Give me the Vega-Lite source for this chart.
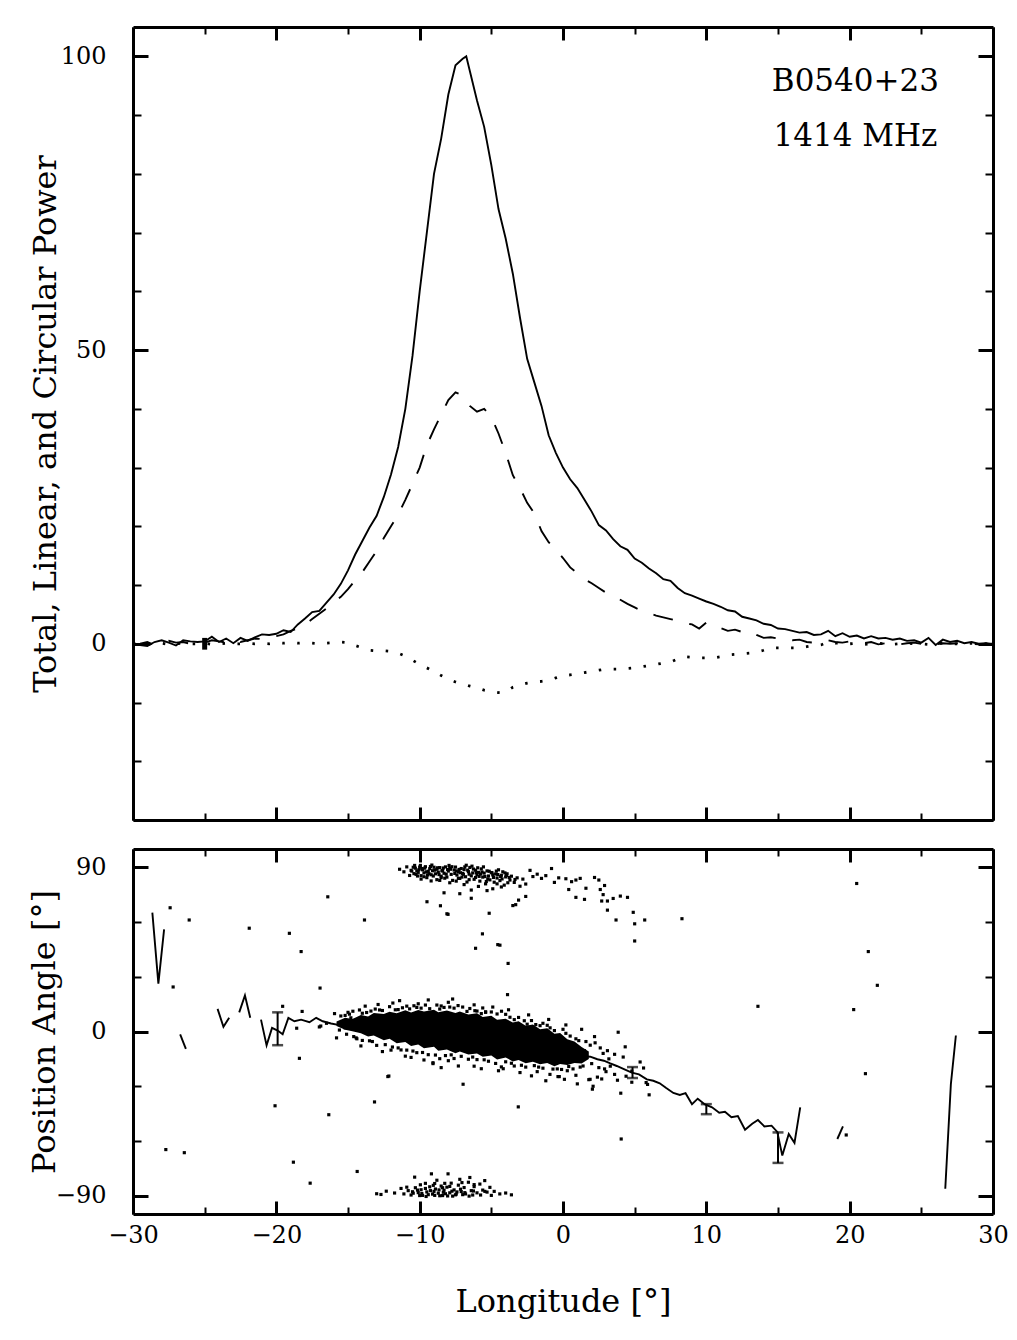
{
  "$schema": "https://vega.github.io/schema/vega-lite/v6.json",
  "background": "white",
  "padding": {"left": 28, "top": 25, "right": 20, "bottom": 5},
  "spacing": 15,
  "config": {
    "font": "DejaVu Serif",
    "view": {"stroke": null},
    "axis": {"grid": false, "domainColor": "black", "tickColor": "black", "labelColor": "black", "titleColor": "black", "labelFont": "DejaVu Serif", "titleFont": "DejaVu Serif", "titleFontWeight": "normal", "labelFlush": false, "labelOverlap": false, "labelBound": false, "domainWidth": 3}
  },
  "datasets": {
    "prof": [
      {"lon":-30,"I":0.0,"L":-0.2,"V":0.0},{"lon":-29.5,"I":-0.2,"L":0.0,"V":0.1},{"lon":-29,"I":-0.4,"L":0.3,"V":-0.1},{"lon":-28.5,"I":0.3,"L":-0.2,"V":0.0},{"lon":-28,"I":0.6,"L":0.2,"V":0.1},{"lon":-27.5,"I":0.2,"L":0.5,"V":-0.1},{"lon":-27,"I":-0.3,"L":0.2,"V":0.0},{"lon":-26.5,"I":0.6,"L":0.3,"V":0.1},{"lon":-26,"I":0.4,"L":0.0,"V":0.0},{"lon":-25.5,"I":0.3,"L":0.4,"V":0.0},{"lon":-25,"I":0.4,"L":0.2,"V":0.1},{"lon":-24.5,"I":1.2,"L":0.6,"V":-0.1},{"lon":-24,"I":0.3,"L":0.4,"V":0.0},{"lon":-23.5,"I":0.9,"L":0.2,"V":0.1},{"lon":-23,"I":0.1,"L":0.7,"V":0.0},{"lon":-22.5,"I":1.0,"L":0.3,"V":0.0},{"lon":-22,"I":0.5,"L":0.6,"V":0.1},{"lon":-21.5,"I":1.1,"L":0.9,"V":0.0},{"lon":-21,"I":1.6,"L":0.8,"V":0.1},{"lon":-20.5,"I":1.5,"L":1.1,"V":0.0},{"lon":-20,"I":1.7,"L":1.3,"V":0.2},{"lon":-19.5,"I":2.3,"L":1.6,"V":0.1},{"lon":-19,"I":2.0,"L":2.2,"V":0.2},{"lon":-18.5,"I":3.3,"L":2.6,"V":0.1},{"lon":-18,"I":4.3,"L":3.3,"V":0.2},{"lon":-17.5,"I":5.4,"L":4.2,"V":0.1},{"lon":-17,"I":5.6,"L":5.1,"V":0.0},{"lon":-16.5,"I":7.0,"L":6.0,"V":0.1},{"lon":-16,"I":8.4,"L":7.0,"V":0.2},{"lon":-15.5,"I":10.2,"L":8.0,"V":0.3},{"lon":-15,"I":12.5,"L":9.3,"V":0.2},{"lon":-14.5,"I":15.2,"L":10.8,"V":-0.3},{"lon":-14,"I":17.5,"L":12.2,"V":-0.7},{"lon":-13.5,"I":19.8,"L":14.0,"V":-1.1},{"lon":-13,"I":21.8,"L":15.8,"V":-1.2},{"lon":-12.5,"I":25.0,"L":18.0,"V":-1.2},{"lon":-12,"I":28.8,"L":20.0,"V":-1.3},{"lon":-11.5,"I":33.5,"L":22.0,"V":-1.6},{"lon":-11,"I":40.0,"L":24.5,"V":-2.1},{"lon":-10.5,"I":49.0,"L":27.2,"V":-2.8},{"lon":-10,"I":60.0,"L":30.0,"V":-3.5},{"lon":-9.5,"I":70.0,"L":33.8,"V":-4.1},{"lon":-9,"I":80.0,"L":36.5,"V":-4.7},{"lon":-8.5,"I":86.0,"L":39.0,"V":-5.4},{"lon":-8,"I":93.5,"L":41.5,"V":-6.0},{"lon":-7.5,"I":98.5,"L":42.8,"V":-6.5},{"lon":-7,"I":99.6,"L":42.3,"V":-6.9},{"lon":-6.75,"I":100.0,"L":41.5,"V":-7.0},{"lon":-6.5,"I":97.5,"L":40.5,"V":-7.2},{"lon":-6,"I":92.5,"L":39.5,"V":-7.5},{"lon":-5.5,"I":88.0,"L":40.0,"V":-7.9},{"lon":-5,"I":81.5,"L":38.6,"V":-8.1},{"lon":-4.5,"I":74.0,"L":35.8,"V":-8.3},{"lon":-4,"I":69.0,"L":32.5,"V":-8.2},{"lon":-3.5,"I":63.0,"L":28.7,"V":-7.4},{"lon":-3,"I":55.5,"L":26.5,"V":-7.0},{"lon":-2.5,"I":48.5,"L":24.0,"V":-6.7},{"lon":-2,"I":44.5,"L":22.2,"V":-6.5},{"lon":-1.5,"I":40.5,"L":19.2,"V":-6.4},{"lon":-1,"I":35.5,"L":17.3,"V":-6.2},{"lon":-0.5,"I":32.5,"L":16.0,"V":-5.8},{"lon":0,"I":30.0,"L":14.6,"V":-5.4},{"lon":0.5,"I":28.0,"L":13.0,"V":-5.3},{"lon":1,"I":26.5,"L":12.0,"V":-5.1},{"lon":1.5,"I":24.5,"L":11.0,"V":-4.9},{"lon":2,"I":22.5,"L":10.3,"V":-4.7},{"lon":2.5,"I":20.2,"L":9.5,"V":-4.5},{"lon":3,"I":19.3,"L":8.7,"V":-4.3},{"lon":3.5,"I":17.8,"L":8.2,"V":-4.3},{"lon":4,"I":16.6,"L":7.5,"V":-4.3},{"lon":4.5,"I":16.0,"L":6.8,"V":-4.2},{"lon":5,"I":14.5,"L":6.2,"V":-4.1},{"lon":5.5,"I":13.8,"L":5.6,"V":-3.9},{"lon":6,"I":12.8,"L":5.2,"V":-3.7},{"lon":6.5,"I":12.0,"L":4.8,"V":-3.5},{"lon":7,"I":11.0,"L":4.5,"V":-3.3},{"lon":7.5,"I":10.7,"L":4.2,"V":-3.1},{"lon":8,"I":9.5,"L":3.9,"V":-2.6},{"lon":8.5,"I":8.6,"L":3.5,"V":-2.2},{"lon":9,"I":8.2,"L":3.3,"V":-2.3},{"lon":9.5,"I":7.7,"L":2.6,"V":-2.4},{"lon":10,"I":7.2,"L":3.6,"V":-2.4},{"lon":10.5,"I":6.8,"L":2.8,"V":-2.4},{"lon":11,"I":6.3,"L":2.7,"V":-2.2},{"lon":11.5,"I":5.7,"L":2.2,"V":-1.9},{"lon":12,"I":5.5,"L":2.4,"V":-1.8},{"lon":12.5,"I":4.6,"L":2.0,"V":-1.7},{"lon":13,"I":4.3,"L":2.2,"V":-1.6},{"lon":13.5,"I":4.0,"L":1.5,"V":-1.4},{"lon":14,"I":3.4,"L":1.0,"V":-1.1},{"lon":14.5,"I":3.2,"L":1.1,"V":-0.7},{"lon":15,"I":2.6,"L":0.9,"V":-0.7},{"lon":15.5,"I":2.5,"L":1.0,"V":-0.7},{"lon":16,"I":2.2,"L":0.6,"V":-0.7},{"lon":16.5,"I":1.9,"L":0.7,"V":-0.7},{"lon":17,"I":2.0,"L":0.3,"V":-0.5},{"lon":17.5,"I":1.5,"L":0.2,"V":-0.3},{"lon":18,"I":1.6,"L":0.5,"V":-0.2},{"lon":18.5,"I":2.2,"L":0.6,"V":0.3},{"lon":19,"I":1.3,"L":0.3,"V":0.1},{"lon":19.5,"I":1.8,"L":0.2,"V":0.1},{"lon":20,"I":1.2,"L":0.4,"V":0.0},{"lon":20.5,"I":1.4,"L":0.2,"V":0.1},{"lon":21,"I":0.9,"L":0.1,"V":-0.1},{"lon":21.5,"I":1.3,"L":0.3,"V":0.0},{"lon":22,"I":0.9,"L":-0.1,"V":0.1},{"lon":22.5,"I":1.0,"L":0.1,"V":0.0},{"lon":23,"I":0.7,"L":0.2,"V":-0.1},{"lon":23.5,"I":0.9,"L":-0.1,"V":0.0},{"lon":24,"I":0.5,"L":0.1,"V":0.1},{"lon":24.5,"I":0.6,"L":0.2,"V":0.0},{"lon":25,"I":0.2,"L":0.0,"V":0.0},{"lon":25.5,"I":1.0,"L":0.1,"V":-0.1},{"lon":26,"I":-0.2,"L":-0.1,"V":0.0},{"lon":26.5,"I":0.7,"L":0.1,"V":0.1},{"lon":27,"I":0.3,"L":0.0,"V":0.0},{"lon":27.5,"I":0.5,"L":0.1,"V":0.0},{"lon":28,"I":0.1,"L":0.0,"V":0.0},{"lon":28.5,"I":0.3,"L":0.0,"V":0.1},{"lon":29,"I":0.0,"L":-0.1,"V":0.0},{"lon":29.5,"I":0.1,"L":0.0,"V":0.0},{"lon":30,"I":-0.1,"L":0.0,"V":0.0}
    ],
    "paline": [
      {"seg":1,"lon":-28.65,"pa":65.1},{"seg":1,"lon":-28.23,"pa":26.2},{"seg":1,"lon":-27.83,"pa":56.0},
      {"seg":2,"lon":-26.71,"pa":-1.6},{"seg":2,"lon":-26.31,"pa":-9.5},
      {"seg":3,"lon":-24.1,"pa":12.4},{"seg":3,"lon":-23.69,"pa":2.6},{"seg":3,"lon":-23.29,"pa":7.5},
      {"seg":4,"lon":-22.59,"pa":10.5},{"seg":4,"lon":-22.19,"pa":19.8},{"seg":4,"lon":-21.82,"pa":7.5},
      {"seg":5,"lon":-21.07,"pa":6.5},{"seg":5,"lon":-20.68,"pa":-7.6},{"seg":5,"lon":-20.3,"pa":2.0},{"seg":5,"lon":-19.91,"pa":0.5},{"seg":5,"lon":-19.56,"pa":-1.5},{"seg":5,"lon":-19.16,"pa":7.5},{"seg":5,"lon":-18.74,"pa":5.6},{"seg":5,"lon":-18.27,"pa":6.5},{"seg":5,"lon":-17.69,"pa":5.1},{"seg":5,"lon":-17.22,"pa":7.5},{"seg":5,"lon":-16.76,"pa":5.6},{"seg":5,"lon":-16.18,"pa":4.4},{"seg":5,"lon":-15.6,"pa":3.5},{"seg":5,"lon":-15.1,"pa":4.0},{"seg":5,"lon":-14.66,"pa":4.4},{"seg":5,"lon":-14.2,"pa":3.0},{"seg":5,"lon":-13.7,"pa":3.6},{"seg":5,"lon":-12,"pa":1.5},{"seg":5,"lon":-10,"pa":0.0},{"seg":5,"lon":-8,"pa":-1.5},{"seg":5,"lon":-6,"pa":-3.0},{"seg":5,"lon":-4,"pa":-5.0},{"seg":5,"lon":-2,"pa":-8.0},{"seg":5,"lon":0,"pa":-10.0},{"seg":5,"lon":0.96,"pa":-11.6},{"seg":5,"lon":1.45,"pa":-13.5},{"seg":5,"lon":1.9,"pa":-13.8},{"seg":5,"lon":2.4,"pa":-15.2},{"seg":5,"lon":2.85,"pa":-16.0},{"seg":5,"lon":3.3,"pa":-17.5},{"seg":5,"lon":3.75,"pa":-18.9},{"seg":5,"lon":4.25,"pa":-20.6},{"seg":5,"lon":4.8,"pa":-22.5},{"seg":5,"lon":5.3,"pa":-23.5},{"seg":5,"lon":5.85,"pa":-26.2},{"seg":5,"lon":6.3,"pa":-27.0},{"seg":5,"lon":6.75,"pa":-28.4},{"seg":5,"lon":7.2,"pa":-31.0},{"seg":5,"lon":7.7,"pa":-33.7},{"seg":5,"lon":8.15,"pa":-34.8},{"seg":5,"lon":8.55,"pa":-33.8},{"seg":5,"lon":9.0,"pa":-39.8},{"seg":5,"lon":9.4,"pa":-36.8},{"seg":5,"lon":9.9,"pa":-40.0},{"seg":5,"lon":10.4,"pa":-41.5},{"seg":5,"lon":10.9,"pa":-44.5},{"seg":5,"lon":11.3,"pa":-44.0},{"seg":5,"lon":11.75,"pa":-47.0},{"seg":5,"lon":12.2,"pa":-46.3},{"seg":5,"lon":12.7,"pa":-53.8},{"seg":5,"lon":13.2,"pa":-50.5},{"seg":5,"lon":13.6,"pa":-48.5},{"seg":5,"lon":14.05,"pa":-52.0},{"seg":5,"lon":14.55,"pa":-51.6},{"seg":5,"lon":14.95,"pa":-55.0},{"seg":5,"lon":15.3,"pa":-68.0},{"seg":5,"lon":15.75,"pa":-56.2},{"seg":5,"lon":16.15,"pa":-61.0},{"seg":5,"lon":16.55,"pa":-41.6},
      {"seg":6,"lon":19.14,"pa":-58.9},{"seg":6,"lon":19.53,"pa":-52.0},
      {"seg":7,"lon":26.67,"pa":-86.2},{"seg":7,"lon":27.06,"pa":-28.9},{"seg":7,"lon":27.41,"pa":-2.2}
    ],
    "paerr": [
      {"lon":-19.91,"lo":-7.5,"hi":10.5},{"lon":4.85,"lo":-25.5,"hi":-19.5},{"lon":10.0,"lo":-45.3,"hi":-39.8},{"lon":15.0,"lo":-72.0,"hi":-55.3}
    ],
    "core": [
      {"lon":-15.8,"hi":5.5,"lo":3.0},{"lon":-15.2,"hi":7.5,"lo":1.0},{"lon":-14.7,"hi":6.8,"lo":0.2},{"lon":-14.1,"hi":9.0,"lo":-1.0},{"lon":-13.6,"hi":8.2,"lo":-2.8},{"lon":-13.2,"hi":10.2,"lo":-2.2},{"lon":-12.5,"hi":9.6,"lo":-4.8},{"lon":-12.1,"hi":10.8,"lo":-4.0},{"lon":-11.6,"hi":10.0,"lo":-6.5},{"lon":-11.0,"hi":11.6,"lo":-5.8},{"lon":-10.6,"hi":10.4,"lo":-8.0},{"lon":-10.1,"hi":11.8,"lo":-7.1},{"lon":-9.7,"hi":11.0,"lo":-9.2},{"lon":-9.0,"hi":11.9,"lo":-8.3},{"lon":-8.7,"hi":10.6,"lo":-10.6},{"lon":-8.1,"hi":11.5,"lo":-9.8},{"lon":-7.5,"hi":10.2,"lo":-11.9},{"lon":-7.2,"hi":11.0,"lo":-10.9},{"lon":-6.6,"hi":9.3,"lo":-12.6},{"lon":-6.0,"hi":10.0,"lo":-12.0},{"lon":-5.6,"hi":8.0,"lo":-13.9},{"lon":-5.0,"hi":8.6,"lo":-13.1},{"lon":-4.6,"hi":6.4,"lo":-15.3},{"lon":-4.0,"hi":7.0,"lo":-14.2},{"lon":-3.5,"hi":5.0,"lo":-16.4},{"lon":-3.1,"hi":5.6,"lo":-15.6},{"lon":-2.6,"hi":3.2,"lo":-17.4},{"lon":-2.1,"hi":3.9,"lo":-16.6},{"lon":-1.6,"hi":1.2,"lo":-18.0},{"lon":-1.1,"hi":1.8,"lo":-17.2},{"lon":-0.6,"hi":-1.3,"lo":-19.0},{"lon":-0.2,"hi":-0.8,"lo":-17.8},{"lon":0.3,"hi":-4.2,"lo":-18.4},{"lon":0.8,"hi":-5.5,"lo":-17.2},{"lon":1.3,"hi":-8.5,"lo":-17.6},{"lon":1.8,"hi":-11.0,"lo":-15.0}
    ],
    "pts": [
      {"lon":-11.4,"pa":88.9},{"lon":-10.6,"pa":88.3},{"lon":-10.4,"pa":86.5},{"lon":-10.3,"pa":89.5},{"lon":-10.1,"pa":87.2},{"lon":-10.0,"pa":90.1},{"lon":-9.9,"pa":85.4},{"lon":-9.8,"pa":88.6},{"lon":-9.7,"pa":86.9},{"lon":-9.6,"pa":90.3},{"lon":-9.5,"pa":84.3},{"lon":-9.4,"pa":87.8},{"lon":-9.3,"pa":89.2},{"lon":-9.2,"pa":85.9},{"lon":-9.1,"pa":88.1},{"lon":-9.0,"pa":90.0},{"lon":-8.9,"pa":86.4},{"lon":-8.8,"pa":83.2},{"lon":-8.8,"pa":88.9},{"lon":-8.7,"pa":87.3},{"lon":-8.6,"pa":89.8},{"lon":-8.5,"pa":85.1},{"lon":-8.4,"pa":88.2},{"lon":-8.3,"pa":86.7},{"lon":-8.2,"pa":90.2},{"lon":-8.1,"pa":84.6},{"lon":-8.0,"pa":87.9},{"lon":-7.9,"pa":89.4},{"lon":-7.8,"pa":86.1},{"lon":-7.7,"pa":82.8},{"lon":-7.6,"pa":88.5},{"lon":-7.5,"pa":90.1},{"lon":-7.4,"pa":85.7},{"lon":-7.3,"pa":87.4},{"lon":-7.2,"pa":83.9},{"lon":-7.1,"pa":89.3},{"lon":-7.0,"pa":86.6},{"lon":-6.9,"pa":88.7},{"lon":-6.8,"pa":84.8},{"lon":-6.7,"pa":81.9},{"lon":-6.6,"pa":87.6},{"lon":-6.5,"pa":89.9},{"lon":-6.4,"pa":85.3},{"lon":-6.3,"pa":86.9},{"lon":-6.2,"pa":83.4},{"lon":-6.1,"pa":88.4},{"lon":-6.0,"pa":85.9},{"lon":-5.9,"pa":87.2},{"lon":-5.8,"pa":82.4},{"lon":-5.7,"pa":89.1},{"lon":-5.6,"pa":84.6},{"lon":-5.5,"pa":86.8},{"lon":-5.4,"pa":80.9},{"lon":-5.3,"pa":88.0},{"lon":-5.2,"pa":85.2},{"lon":-5.1,"pa":83.1},{"lon":-5.0,"pa":87.1},{"lon":-4.9,"pa":85.8},{"lon":-4.8,"pa":81.8},{"lon":-4.7,"pa":86.3},{"lon":-4.6,"pa":84.1},{"lon":-4.5,"pa":88.6},{"lon":-4.4,"pa":82.7},{"lon":-4.3,"pa":85.6},{"lon":-4.2,"pa":87.5},{"lon":-4.1,"pa":80.2},{"lon":-4.0,"pa":84.7},{"lon":-3.9,"pa":86.4},{"lon":-3.7,"pa":83.0},{"lon":-3.6,"pa":85.1},{"lon":-3.4,"pa":81.7},{"lon":-3.2,"pa":84.2},{"lon":-3.0,"pa":79.6},{"lon":-2.8,"pa":83.5},{"lon":-2.6,"pa":80.8},{"lon":-2.3,"pa":88.3},{"lon":-2.1,"pa":84.9},{"lon":-1.8,"pa":86.2},{"lon":-1.5,"pa":83.9},{"lon":-1.2,"pa":85.4},{"lon":-0.8,"pa":89.3},{"lon":-0.6,"pa":81.7},{"lon":-0.3,"pa":84.2},{"lon":0.2,"pa":83.7},{"lon":0.6,"pa":82.1},{"lon":0.9,"pa":83.0},{"lon":1.2,"pa":83.9},{"lon":1.6,"pa":78.5},{"lon":2.2,"pa":84.4},{"lon":2.5,"pa":83.0},{"lon":2.9,"pa":80.0},{"lon":2.6,"pa":77.8},{"lon":2.8,"pa":75.0},{"lon":2.7,"pa":71.5},{"lon":3.1,"pa":71.5},{"lon":3.5,"pa":72.9},{"lon":4.0,"pa":74.2},{"lon":4.5,"pa":73.5},{"lon":3.1,"pa":66.5},{"lon":3.7,"pa":61.1},{"lon":4.9,"pa":65.3},{"lon":5.0,"pa":59.0},{"lon":5.7,"pa":61.1},{"lon":5.0,"pa":49.6},{"lon":8.3,"pa":61.8},{"lon":0.9,"pa":73.5},{"lon":1.5,"pa":72.4},{"lon":0.4,"pa":77.8},
      {"lon":-10.2,"pa":88.0},{"lon":-9.85,"pa":89.3},{"lon":-9.55,"pa":87.5},{"lon":-9.25,"pa":90.4},{"lon":-8.95,"pa":88.4},{"lon":-8.65,"pa":86.0},{"lon":-8.35,"pa":89.6},{"lon":-8.05,"pa":88.8},{"lon":-7.75,"pa":90.3},{"lon":-7.45,"pa":88.0},{"lon":-7.15,"pa":87.0},{"lon":-6.85,"pa":90.2},{"lon":-6.55,"pa":86.2},{"lon":-6.25,"pa":89.0},{"lon":-5.95,"pa":89.7},{"lon":-5.65,"pa":87.4},
      {"lon":-10.55,"pa":87.9},{"lon":-10.25,"pa":86.1},{"lon":-10.05,"pa":88.7},{"lon":-9.65,"pa":89.5},{"lon":-9.35,"pa":86.5},{"lon":-9.05,"pa":85.2},{"lon":-8.75,"pa":89.7},{"lon":-8.45,"pa":88.0},{"lon":-8.15,"pa":86.2},{"lon":-7.85,"pa":88.9},{"lon":-7.55,"pa":86.6},{"lon":-7.25,"pa":88.8},{"lon":-6.95,"pa":86.1},{"lon":-6.65,"pa":88.4},{"lon":-6.35,"pa":90.6},{"lon":-6.05,"pa":87.0},{"lon":-5.75,"pa":86.3},{"lon":-5.45,"pa":84.9},{"lon":-5.15,"pa":87.8},{"lon":-4.85,"pa":84.4},{"lon":-4.55,"pa":86.0},{"lon":-4.25,"pa":83.6},{"lon":-3.95,"pa":85.5},{"lon":-10.35,"pa":91.0},{"lon":-9.15,"pa":91.2},{"lon":-7.95,"pa":91.0},{"lon":-6.75,"pa":91.1},{"lon":-5.55,"pa":90.2},{"lon":-9.9,"pa":83.5},{"lon":-8.6,"pa":82.8},{"lon":-7.45,"pa":82.4},{"lon":-6.55,"pa":83.2},{"lon":-5.35,"pa":82.2},{"lon":-4.6,"pa":80.9},{"lon":-3.85,"pa":81.5},{"lon":-3.35,"pa":83.3},
      {"lon":-10.45,"pa":90.0},{"lon":-10.15,"pa":85.2},{"lon":-9.95,"pa":91.0},{"lon":-9.45,"pa":85.8},{"lon":-8.25,"pa":84.0},{"lon":-7.05,"pa":84.6},{"lon":-5.85,"pa":85.0},{"lon":-5.25,"pa":83.6},{"lon":-4.95,"pa":86.9},{"lon":-4.65,"pa":87.9},{"lon":-4.35,"pa":84.9},{"lon":-4.05,"pa":86.9},{"lon":-3.75,"pa":84.4},{"lon":-10.9,"pa":90.2},{"lon":-11.1,"pa":87.5},{"lon":-10.7,"pa":85.5},{"lon":-9.2,"pa":82.5},{"lon":-7.9,"pa":81.5},{"lon":-6.9,"pa":80.5},{"lon":-5.9,"pa":79.5},{"lon":-4.9,"pa":78.2},{"lon":-6.4,"pa":77.5},{"lon":-5.3,"pa":77.2},{"lon":-4.3,"pa":79.2},{"lon":-9.7,"pa":84.8},{"lon":-8.5,"pa":84.3},{"lon":-7.3,"pa":83.9},{"lon":-6.1,"pa":84.4},
      {"lon":-9.49,"pa":71.1},{"lon":-8.55,"pa":68.9},{"lon":-8.02,"pa":64.2},{"lon":-6.4,"pa":73.0},{"lon":-7.2,"pa":75.5},{"lon":-8.3,"pa":76.0},{"lon":-5.15,"pa":64.8},{"lon":-5.62,"pa":53.5},{"lon":-6.1,"pa":45.6},{"lon":-4.55,"pa":47.6},{"lon":-3.83,"pa":37.3},{"lon":-3.5,"pa":69.0},{"lon":-3.1,"pa":72.0},{"lon":-2.6,"pa":74.0},{"lon":-3.87,"pa":20.2},{"lon":-4.4,"pa":47.3},{"lon":-8.1,"pa":64.5},{"lon":-3.3,"pa":69.5},
      {"lon":-15.94,"pa":9.8},{"lon":-15.5,"pa":8.5},{"lon":-15.0,"pa":10.5},{"lon":-14.66,"pa":11.1},{"lon":-14.0,"pa":10.0},{"lon":-13.4,"pa":11.2},{"lon":-12.8,"pa":11.8},{"lon":-11.87,"pa":15.6},{"lon":-11.5,"pa":12.0},{"lon":-10.2,"pa":13.2},{"lon":-9.3,"pa":12.5},{"lon":-8.6,"pa":12.3},{"lon":-7.32,"pa":14.2},{"lon":-6.7,"pa":11.0},{"lon":-6.15,"pa":11.4},{"lon":-5.7,"pa":9.8},{"lon":-4.29,"pa":11.1},{"lon":-3.4,"pa":6.5},{"lon":-2.5,"pa":4.0},{"lon":-1.9,"pa":3.8},{"lon":-1.4,"pa":4.5},{"lon":-0.9,"pa":2.0},{"lon":0.2,"pa":-1.0},{"lon":0.9,"pa":-4.0},{"lon":1.6,"pa":-5.5},{"lon":2.24,"pa":-6.2},{"lon":3.85,"pa":-0.4},{"lon":4.34,"pa":-8.4},{"lon":5.38,"pa":-16.7},{"lon":5.62,"pa":-20.0},{"lon":-14.43,"pa":-3.5},{"lon":-13.3,"pa":-5.5},{"lon":-12.22,"pa":-24.7},{"lon":-11.5,"pa":-9.0},{"lon":-10.47,"pa":-10.7},{"lon":-9.07,"pa":-17.1},{"lon":-8.5,"pa":-19.8},{"lon":-6.97,"pa":-28.9},{"lon":-7.8,"pa":-12.8},{"lon":-6.3,"pa":-14.0},{"lon":-5.5,"pa":-15.5},{"lon":-4.17,"pa":-20.4},{"lon":-3.6,"pa":-17.4},{"lon":-2.9,"pa":-18.5},{"lon":-1.7,"pa":-19.5},{"lon":-0.91,"pa":-23.5},{"lon":-0.35,"pa":-24.7},{"lon":0.3,"pa":-21.5},{"lon":0.9,"pa":-24.0},{"lon":1.89,"pa":-26.2},{"lon":2.1,"pa":-30.0},{"lon":2.4,"pa":-25.0},{"lon":2.9,"pa":-20.5},{"lon":3.3,"pa":-19.0},{"lon":1.2,"pa":-19.5},{"lon":4.8,"pa":-21.7},{"lon":5.8,"pa":-28.0},{"lon":4.03,"pa":-33.8},{"lon":6.01,"pa":-34.7},{"lon":5.9,"pa":-29.0},{"lon":4.8,"pa":-27.8},{"lon":2.05,"pa":-31.6},{"lon":1.8,"pa":-26.4},{"lon":2.7,"pa":-26.0},{"lon":0.7,"pa":-20.5},{"lon":-0.26,"pa":-24.7},{"lon":-0.4,"pa":-20.5},{"lon":1.0,"pa":-14.0},{"lon":1.5,"pa":-10.5},{"lon":0.5,"pa":-8.5},{"lon":2.8,"pa":-12.0},{"lon":3.2,"pa":-15.0},{"lon":-16.5,"pa":4.5},{"lon":-16.9,"pa":3.0},{"lon":-15.2,"pa":2.0},{"lon":-14.8,"pa":7.5},
      {"lon":-15.2,"pa":8.8},{"lon":-14.9,"pa":9.5},{"lon":-14.2,"pa":11.8},{"lon":-13.7,"pa":10.4},{"lon":-13.1,"pa":12.3},{"lon":-12.6,"pa":11.5},{"lon":-12.1,"pa":13.6},{"lon":-11.7,"pa":11.9},{"lon":-11.2,"pa":13.0},{"lon":-10.7,"pa":12.4},{"lon":-10.4,"pa":14.1},{"lon":-9.9,"pa":12.8},{"lon":-9.6,"pa":14.5},{"lon":-8.8,"pa":14.5},{"lon":-8.3,"pa":13.2},{"lon":-7.9,"pa":13.4},{"lon":-7.6,"pa":12.8},{"lon":-7.0,"pa":13.4},{"lon":-6.5,"pa":12.6},{"lon":-6.0,"pa":11.2},{"lon":-5.4,"pa":10.8},{"lon":-5.0,"pa":10.7},{"lon":-4.6,"pa":9.6},{"lon":-4.0,"pa":9.4},{"lon":-3.7,"pa":7.8},{"lon":-3.1,"pa":7.7},{"lon":-2.7,"pa":5.9},{"lon":-2.2,"pa":6.0},{"lon":-1.6,"pa":3.2},{"lon":-1.1,"pa":3.4},{"lon":-0.6,"pa":0.5},{"lon":0.0,"pa":1.2},{"lon":0.5,"pa":-2.5},{"lon":1.1,"pa":-5.0},{"lon":1.9,"pa":-7.5},{"lon":2.6,"pa":-9.0},{"lon":3.1,"pa":-10.5},{"lon":3.6,"pa":-12.5},{"lon":4.2,"pa":-14.0},
      {"lon":-15.6,"pa":0.8},{"lon":-15.1,"pa":-1.5},{"lon":-14.6,"pa":-2.8},{"lon":-14.0,"pa":-4.9},{"lon":-13.5,"pa":-5.1},{"lon":-13.0,"pa":-7.6},{"lon":-12.4,"pa":-7.2},{"lon":-11.9,"pa":-8.5},{"lon":-11.3,"pa":-10.1},{"lon":-10.9,"pa":-10.2},{"lon":-10.2,"pa":-11.6},{"lon":-9.8,"pa":-11.5},{"lon":-9.4,"pa":-12.7},{"lon":-8.9,"pa":-12.9},{"lon":-8.2,"pa":-13.2},{"lon":-7.6,"pa":-14.8},{"lon":-7.1,"pa":-13.6},{"lon":-6.6,"pa":-15.2},{"lon":-6.0,"pa":-15.4},{"lon":-5.2,"pa":-16.3},{"lon":-4.7,"pa":-17.5},{"lon":-4.0,"pa":-16.6},{"lon":-3.4,"pa":-18.9},{"lon":-2.6,"pa":-19.5},{"lon":-2.0,"pa":-18.7},{"lon":-1.4,"pa":-20.1},{"lon":-0.7,"pa":-20.6},{"lon":-0.1,"pa":-20.8},{"lon":0.4,"pa":-19.2},{"lon":1.4,"pa":-18.9},{"lon":2.0,"pa":-17.6},{"lon":2.5,"pa":-19.8},{"lon":3.0,"pa":-22.0},{"lon":3.6,"pa":-23.5},{"lon":4.4,"pa":-24.5},{"lon":-11.0,"pa":-13.5},{"lon":-8.0,"pa":-16.0},{"lon":-6.2,"pa":-19.0},{"lon":-4.5,"pa":-21.5},{"lon":-1.2,"pa":-27.0},
      {"lon":-12.9,"pa":14.8},{"lon":-11.4,"pa":16.9},{"lon":-10.1,"pa":15.2},{"lon":-9.4,"pa":17.3},{"lon":-8.0,"pa":16.0},{"lon":-6.2,"pa":14.6},{"lon":-4.9,"pa":13.4},{"lon":-3.8,"pa":11.9},{"lon":-2.4,"pa":9.1},{"lon":-1.0,"pa":6.6},{"lon":0.2,"pa":3.6},{"lon":1.3,"pa":1.2},{"lon":2.2,"pa":-2.8},{"lon":-15.8,"pa":-3.5},{"lon":-14.1,"pa":-7.9},{"lon":-12.6,"pa":-11.0},{"lon":-10.6,"pa":-14.2},{"lon":-9.7,"pa":-15.6},{"lon":-7.3,"pa":-18.9},{"lon":-5.7,"pa":-20.4},{"lon":-3.0,"pa":-22.5},{"lon":-2.2,"pa":-24.3},{"lon":0.1,"pa":-26.2},{"lon":1.0,"pa":-28.7},{"lon":3.8,"pa":-26.7},{"lon":-13.8,"pa":13.9},{"lon":-7.7,"pa":17.8},{"lon":-5.6,"pa":12.9},{"lon":-10.9,"pa":13.9},{"lon":-12.0,"pa":-10.2},{"lon":-8.6,"pa":-14.9},{"lon":-4.3,"pa":-19.4},{"lon":-1.8,"pa":-22.0},
      {"lon":-27.41,"pa":67.8},{"lon":-26.08,"pa":61.1},{"lon":-27.2,"pa":24.4},{"lon":-21.89,"pa":56.6},{"lon":-19.09,"pa":53.8},{"lon":-18.27,"pa":43.8},{"lon":-16.41,"pa":73.8},{"lon":-13.85,"pa":61.1},{"lon":-16.95,"pa":23.8},{"lon":-19.56,"pa":13.8},{"lon":-18.2,"pa":11.0},{"lon":-18.58,"pa":1.8},{"lon":-17.0,"pa":2.5},{"lon":-18.39,"pa":-14.7},{"lon":-14.38,"pa":-4.0},{"lon":-12.15,"pa":-24.4},{"lon":-9.07,"pa":-17.6},{"lon":-3.12,"pa":-41.3},{"lon":-20.09,"pa":-40.7},{"lon":-13.15,"pa":-38.6},{"lon":-16.34,"pa":-45.6},{"lon":-27.71,"pa":-64.7},{"lon":-26.42,"pa":-66.4},{"lon":-18.81,"pa":-71.6},{"lon":-14.36,"pa":-76.7},{"lon":-17.64,"pa":-83.1},{"lon":-8.5,"pa":14.0},{"lon":-5.4,"pa":10.5},{"lon":20.49,"pa":81.1},{"lon":21.3,"pa":43.8},{"lon":21.93,"pa":25.3},{"lon":20.28,"pa":12.0},{"lon":13.6,"pa":13.8},{"lon":21.1,"pa":-23.1},{"lon":19.76,"pa":-56.7},{"lon":4.06,"pa":-58.9},
      {"lon":-12.33,"pa":-87.5},{"lon":-11.75,"pa":-88.5},{"lon":-11.3,"pa":-86.0},{"lon":-11.1,"pa":-89.0},{"lon":-10.8,"pa":-87.2},{"lon":-10.6,"pa":-89.6},{"lon":-10.35,"pa":-79.8},{"lon":-10.3,"pa":-85.6},{"lon":-9.9,"pa":-86.7},{"lon":-9.6,"pa":-83.2},{"lon":-9.3,"pa":-85.1},{"lon":-9.18,"pa":-78.0},{"lon":-8.8,"pa":-81.5},{"lon":-8.5,"pa":-84.7},{"lon":-8.1,"pa":-85.3},{"lon":-8.02,"pa":-78.0},{"lon":-7.8,"pa":-83.1},{"lon":-7.3,"pa":-84.2},{"lon":-7.2,"pa":-81.0},{"lon":-6.9,"pa":-85.5},{"lon":-6.6,"pa":-82.6},{"lon":-6.5,"pa":-80.0},{"lon":-6.2,"pa":-85.0},{"lon":-6.0,"pa":-88.4},{"lon":-5.8,"pa":-83.6},{"lon":-5.6,"pa":-86.9},{"lon":-5.46,"pa":-81.7},{"lon":-5.3,"pa":-88.0},{"lon":-5.1,"pa":-85.4},{"lon":-4.8,"pa":-87.6},{"lon":-4.41,"pa":-89.0},{"lon":-3.6,"pa":-89.5},{"lon":-9.95,"pa":-84.0},{"lon":-8.95,"pa":-83.3},{"lon":-10.9,"pa":-85.3},{"lon":-5.75,"pa":-89.6},{"lon":-5.45,"pa":-87.6},{"lon":-9.05,"pa":-84.3},{"lon":-8.25,"pa":-83.2},{"lon":-7.05,"pa":-82.8},{"lon":-6.2,"pa":-83.9},{"lon":-13.0,"pa":-88.9},{"lon":-12.7,"pa":-89.3},{"lon":-4.0,"pa":-88.5},{"lon":-5.0,"pa":-89.8},
      {"lon":-10.45,"pa":-88.6},{"lon":-10.15,"pa":-86.9},{"lon":-9.85,"pa":-88.8},{"lon":-9.55,"pa":-90.4},{"lon":-9.25,"pa":-87.2},{"lon":-8.95,"pa":-89.8},{"lon":-8.65,"pa":-86.8},{"lon":-8.35,"pa":-88.1},{"lon":-8.05,"pa":-90.1},{"lon":-7.75,"pa":-87.5},{"lon":-7.45,"pa":-89.1},{"lon":-7.15,"pa":-86.4},{"lon":-6.85,"pa":-88.3},{"lon":-6.55,"pa":-90.2},{"lon":-6.25,"pa":-87.4},{"lon":-9.4,"pa":-89.4},{"lon":-9.0,"pa":-87.6},{"lon":-8.6,"pa":-90.0},{"lon":-8.2,"pa":-88.9},{"lon":-7.7,"pa":-90.2},{"lon":-7.0,"pa":-89.4},{"lon":-6.3,"pa":-89.6},{"lon":-10.5,"pa":-87.8},{"lon":-7.4,"pa":-87.9},{"lon":-9.6,"pa":-86.0},{"lon":-8.4,"pa":-85.6},{"lon":-7.9,"pa":-84.9},{"lon":-10.0,"pa":-89.9},{"lon":-9.1,"pa":-89.1},{"lon":-8.7,"pa":-88.6},{"lon":-8.3,"pa":-87.0},{"lon":-7.6,"pa":-86.8},{"lon":-7.5,"pa":-89.5},{"lon":-7.1,"pa":-87.7},{"lon":-6.8,"pa":-89.0},{"lon":-6.4,"pa":-87.2},{"lon":-9.8,"pa":-89.8},{"lon":-9.5,"pa":-87.9},{"lon":-8.9,"pa":-86.3},{"lon":-8.4,"pa":-89.9},{"lon":-7.9,"pa":-88.4},{"lon":-10.1,"pa":-88.3}
    ]
  },
  "vconcat": [
    {
      "width": 860,
      "height": 793,
      "layer": [
        {
          "data": {"name": "prof"},
          "mark": {"type": "line", "color": "black", "strokeWidth": 1.9},
          "encoding": {
            "x": {"field": "lon", "type": "quantitative", "scale": {"domain": [-30, 30], "nice": false, "zero": false},
              "axis": {"orient": "bottom", "values": [-30,-25,-20,-15,-10,-5,0,5,10,15,20,25,30], "labels": false, "title": null,
                "tickSize": {"condition": {"test": "datum.value % 10 === 0", "value": -13}, "value": -7},
                "tickWidth": {"condition": {"test": "datum.value % 10 === 0", "value": 3}, "value": 2}}},
            "y": {"field": "I", "type": "quantitative", "scale": {"domain": [-30, 105], "nice": false, "zero": false},
              "axis": {"orient": "left", "values": [-30,-20,-10,0,10,20,30,40,50,60,70,80,90,100],
                "labelExpr": "datum.value % 50 === 0 ? datum.label : ''", "labelFontSize": 24, "labelPadding": 42,
                "title": "Total, Linear, and Circular Power", "titleFontSize": 32, "titlePadding": -2,
                "tickSize": {"condition": {"test": "datum.value % 50 === 0", "value": -15}, "value": -8},
                "tickWidth": {"condition": {"test": "datum.value % 50 === 0", "value": 3}, "value": 2}}}
          }
        },
        {
          "data": {"name": "prof"},
          "mark": {"type": "line", "color": "black", "strokeWidth": 1.9, "strokeDash": [20, 17]},
          "encoding": {
            "x": {"field": "lon", "type": "quantitative",
              "axis": {"orient": "top", "values": [-30,-25,-20,-15,-10,-5,0,5,10,15,20,25,30], "labels": false, "title": null,
                "tickSize": {"condition": {"test": "datum.value % 10 === 0", "value": -13}, "value": -7},
                "tickWidth": {"condition": {"test": "datum.value % 10 === 0", "value": 3}, "value": 2}}},
            "y": {"field": "L", "type": "quantitative",
              "axis": {"orient": "right", "values": [-30,-20,-10,0,10,20,30,40,50,60,70,80,90,100], "labels": false, "title": null,
                "tickSize": {"condition": {"test": "datum.value % 50 === 0", "value": -15}, "value": -8},
                "tickWidth": {"condition": {"test": "datum.value % 50 === 0", "value": 3}, "value": 2}}}
          }
        },
        {
          "data": {"name": "prof"},
          "mark": {"type": "line", "color": "black", "strokeWidth": 2.8, "strokeDash": [2.5, 12.5]},
          "encoding": {
            "x": {"field": "lon", "type": "quantitative", "axis": null},
            "y": {"field": "V", "type": "quantitative", "axis": null}
          }
        },
        {
          "data": {"values": [{"lon": -25, "lo": -1.0, "hi": 1.0}]},
          "mark": {"type": "rule", "color": "black", "strokeWidth": 5},
          "encoding": {
            "x": {"field": "lon", "type": "quantitative", "axis": null},
            "y": {"field": "lo", "type": "quantitative", "axis": null},
            "y2": {"field": "hi"}
          }
        },
        {
          "data": {"values": [{"label": "B0540+23", "lon": 20.4, "val": 95.7}, {"label": "1414 MHz", "lon": 20.4, "val": 86.2}]},
          "mark": {"type": "text", "font": "DejaVu Serif", "fontSize": 31, "align": "center", "baseline": "middle", "color": "black"},
          "encoding": {
            "x": {"field": "lon", "type": "quantitative", "axis": null},
            "y": {"field": "val", "type": "quantitative", "axis": null},
            "text": {"field": "label"}
          }
        }
      ],
      "resolve": {"axis": {"x": "independent", "y": "independent"}}
    },
    {
      "width": 860,
      "height": 365,
      "layer": [
        {
          "data": {"name": "core"},
          "mark": {"type": "area", "color": "black", "opacity": 1},
          "encoding": {
            "x": {"field": "lon", "type": "quantitative", "scale": {"domain": [-30, 30], "nice": false, "zero": false},
              "axis": {"orient": "bottom", "values": [-30,-25,-20,-15,-10,-5,0,5,10,15,20,25,30],
                "labelExpr": "datum.value % 10 === 0 ? datum.label : ''", "labelFontSize": 24, "labelPadding": 22,
                "title": "Longitude [°]", "titleFontSize": 32, "titlePadding": 33,
                "tickSize": {"condition": {"test": "datum.value % 10 === 0", "value": -13}, "value": -7},
                "tickWidth": {"condition": {"test": "datum.value % 10 === 0", "value": 3}, "value": 2}}},
            "y": {"field": "hi", "type": "quantitative", "scale": {"domain": [-100, 100], "nice": false, "zero": false},
              "axis": {"orient": "left", "values": [-90,-60,-30,0,30,60,90],
                "labelExpr": "datum.value % 90 === 0 ? datum.label : ''", "labelFontSize": 24, "labelPadding": 42,
                "title": "Position Angle [°]", "titleFontSize": 32, "titlePadding": -6,
                "tickSize": {"condition": {"test": "datum.value % 90 === 0", "value": -15}, "value": -8},
                "tickWidth": {"condition": {"test": "datum.value % 90 === 0", "value": 3}, "value": 2}}},
            "y2": {"field": "lo"}
          }
        },
        {
          "data": {"name": "pts"},
          "mark": {"type": "square", "color": "black", "size": 10, "opacity": 1},
          "encoding": {
            "x": {"field": "lon", "type": "quantitative",
              "axis": {"orient": "top", "values": [-30,-25,-20,-15,-10,-5,0,5,10,15,20,25,30], "labels": false, "title": null,
                "tickSize": {"condition": {"test": "datum.value % 10 === 0", "value": -13}, "value": -7},
                "tickWidth": {"condition": {"test": "datum.value % 10 === 0", "value": 3}, "value": 2}}},
            "y": {"field": "pa", "type": "quantitative",
              "axis": {"orient": "right", "values": [-90,-60,-30,0,30,60,90], "labels": false, "title": null,
                "tickSize": {"condition": {"test": "datum.value % 90 === 0", "value": -15}, "value": -8},
                "tickWidth": {"condition": {"test": "datum.value % 90 === 0", "value": 3}, "value": 2}}}
          }
        },
        {
          "data": {"name": "paline"},
          "mark": {"type": "line", "color": "black", "strokeWidth": 1.9},
          "encoding": {
            "x": {"field": "lon", "type": "quantitative", "axis": null},
            "y": {"field": "pa", "type": "quantitative", "axis": null},
            "detail": {"field": "seg", "type": "nominal"}
          }
        },
        {
          "data": {"name": "paerr"},
          "mark": {"type": "rule", "color": "black", "strokeWidth": 2},
          "encoding": {
            "x": {"field": "lon", "type": "quantitative", "axis": null},
            "y": {"field": "lo", "type": "quantitative", "axis": null},
            "y2": {"field": "hi"}
          }
        },
        {
          "data": {"name": "paerr"},
          "mark": {"type": "tick", "color": "black", "orient": "horizontal", "size": 11, "thickness": 2.5},
          "encoding": {
            "x": {"field": "lon", "type": "quantitative", "axis": null},
            "y": {"field": "lo", "type": "quantitative", "axis": null}
          }
        },
        {
          "data": {"name": "paerr"},
          "mark": {"type": "tick", "color": "black", "orient": "horizontal", "size": 11, "thickness": 2.5},
          "encoding": {
            "x": {"field": "lon", "type": "quantitative", "axis": null},
            "y": {"field": "hi", "type": "quantitative", "axis": null}
          }
        }
      ],
      "resolve": {"axis": {"x": "independent", "y": "independent"}}
    }
  ]
}
